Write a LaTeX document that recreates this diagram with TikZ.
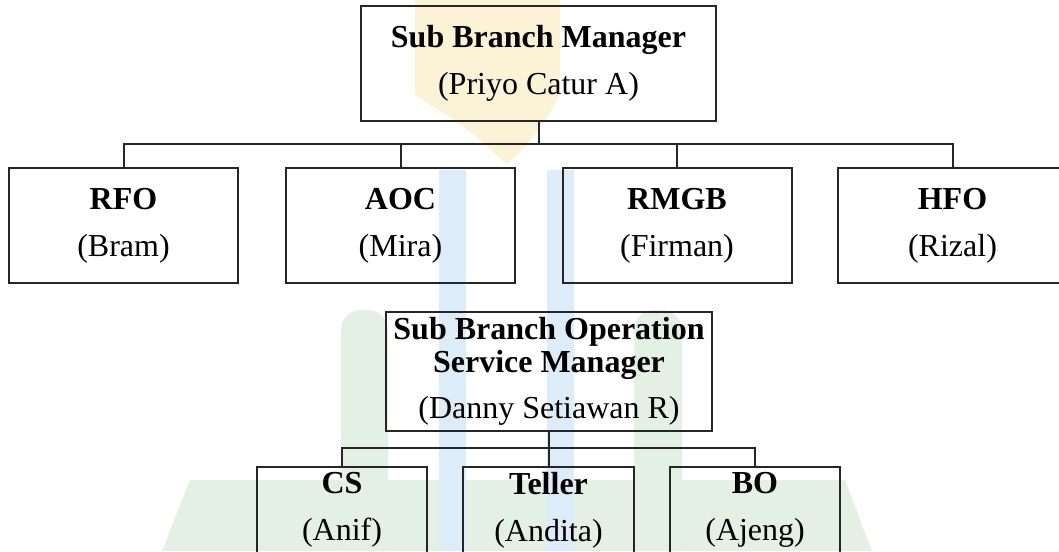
\documentclass[tikz,border=0pt]{standalone}
\usepackage{fontspec}
\setmainfont{Liberation Serif}
\definecolor{wmgreen}{HTML}{E4F0E4}
\definecolor{wmblue}{HTML}{DCECF8}
\definecolor{wmyellow}{HTML}{FCF2D6}
\tikzset{
	post/.style={draw=black!85, line width=2pt, align=center, inner sep=0pt,
		font=\fontsize{32}{47}\selectfont},
	bus/.style={draw=black!85, line width=2pt}
}
\begin{document}
\begin{tikzpicture}[x=1pt, y=-1pt]
	\useasboundingbox (0,0) rectangle (1059,551);
	
	%Wasserzeichen
	\fill[wmyellow] (415,0) -- (560,0) -- (560,95) .. controls (540,130) .. (507,165) .. controls (470,130) .. (415,95) -- cycle;
	\fill[wmgreen] (341,330) arc (180:270:20) -- (368,310) arc (270:360:20) -- (388,551) -- (341,551) -- cycle;
	\fill[wmgreen] (634,330) arc (180:270:20) -- (662,310) arc (270:360:20) -- (682,551) -- (634,551) -- cycle;
	\fill[wmgreen] (162,551) -- (190,480) -- (845,480) -- (872,551) -- cycle;
	\fill[wmblue] (439,170) rectangle (466,551);
	\fill[wmblue] (547,170) rectangle (574,551);
	
	%Ebene 1
	\node[post, minimum width=355pt, minimum height=115pt] (sbm) at (538.5,63.5) {\textbf{Sub Branch Manager}\\(Priyo Catur A)};
	
	%Ebene 2
	\node[post, minimum width=229pt, minimum height=115pt] (rfo) at (123.5,225.5) {\textbf{RFO}\\(Bram)};
	\node[post, minimum width=229pt, minimum height=115pt] (aoc) at (400.5,225.5) {\textbf{AOC}\\(Mira)};
	\node[post, minimum width=229pt, minimum height=115pt] (rmgb) at (677,225.5) {\textbf{RMGB}\\(Firman)};
	\node[post, minimum width=229pt, minimum height=115pt] (hfo) at (952.5,225.5) {\textbf{HFO}\\(Rizal)};
	
	\coordinate (busA) at (538.5,144);
	\draw[bus] (sbm.south) -- (busA);
	\draw[bus] (rfo.north) |- (busA);
	\draw[bus] (aoc.north) |- (busA);
	\draw[bus] (rmgb.north) |- (busA);
	\draw[bus] (hfo.north) |- (busA);
	
	%Ebene 3
	\node[post, minimum width=326pt, minimum height=119pt, font=\fontsize{32}{33}\selectfont] (sbosm) at (549,371.5) {\textbf{Sub Branch Operation}\\\textbf{Service Manager}\\[13pt](Danny Setiawan R)};
	
	%Ebene 4
	\node[post, minimum width=170pt, minimum height=86pt] (cs) at (342,510) {\textbf{CS}\\(Anif)};
	\node[post, minimum width=171pt, minimum height=86pt] (teller) at (548.5,510) {\textbf{Teller}\\(Andita)};
	\node[post, minimum width=170pt, minimum height=86pt] (bo) at (755,510) {\textbf{BO}\\(Ajeng)};
	
	\coordinate (busB) at (549,448);
	\draw[bus] (sbosm.south) -- (busB);
	\draw[bus] (cs.north) |- (busB);
	\draw[bus] (teller.north) |- (busB);
	\draw[bus] (bo.north) |- (busB);
\end{tikzpicture}
\end{document}
